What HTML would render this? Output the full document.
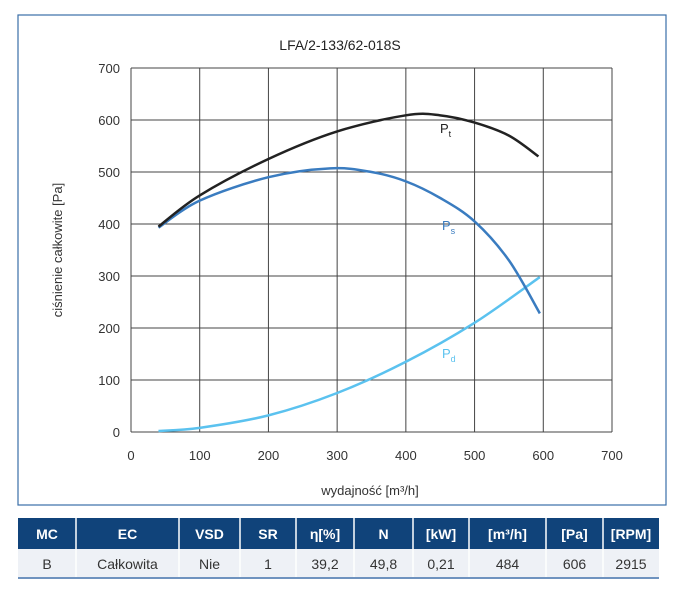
<!DOCTYPE html>
<html><head><meta charset="utf-8"><style>
body{margin:0;background:#fff;width:677px;height:600px;overflow:hidden;font-family:"Liberation Sans",sans-serif}
svg text{font-family:"Liberation Sans",sans-serif}
</style></head><body>
<svg width="677" height="600">
<rect x="18" y="15" width="648" height="490" fill="none" stroke="#3a6fa8" stroke-width="1.2"/>
<text x="340" y="50" text-anchor="middle" font-size="14" fill="#222">LFA/2-133/62-018S</text>
<g id="grid"></g><g id="curves"></g>
<text x="370" y="495" text-anchor="middle" font-size="13" fill="#333">wydajność [m³/h]</text>
<text transform="translate(62,250) rotate(-90)" text-anchor="middle" font-size="13" fill="#333">ciśnienie całkowite [Pa]</text>
<text x="440" y="133" font-size="13" fill="#222">P<tspan font-size="9" dy="4">t</tspan></text>
<text x="442" y="230" font-size="13" fill="#3a7cc0">P<tspan font-size="9" dy="4">s</tspan></text>
<text x="442" y="358" font-size="13" fill="#5bc2ef">P<tspan font-size="9" dy="4">d</tspan></text>
<g>
<rect x="18" y="518" width="641" height="31" fill="#10437a"/>
<rect x="18" y="549" width="641" height="29" fill="#eef1f6"/>
<rect x="18" y="577" width="641" height="2" fill="#6f93bf"/>
<g id="tbl"></g>
</g>
</svg>
<script>
const xTicks=[0,100,200,300,400,500,600,700];
const yTicks=[0,100,200,300,400,500,600,700];
const flowPt=[40,100,200,300,400,450,500,550,593];
const valPt=[395,455,525,578,609,609,595,570,530];
const flowPs=[40,100,200,290,350,400,450,500,550,595];
const valPs=[393,445,490,507,500,482,450,405,330,228];
const flowPd=[40,100,200,300,400,500,595];
const valPd=[2,8,32,75,135,210,298];
const headers=["MC","EC","VSD","SR","η[%]","N","[kW]","[m³/h]","[Pa]","[RPM]"];
const rowVals=["B","Całkowita","Nie","1","39,2","49,8","0,21","484","606","2915"];
const colEdges=[18,76,179,240,296,354,413,469,546,603,659];
const X0=131,X1=612,Y0=432,Y1=68;
const sx=v=>X0+(v/700)*(X1-X0), sy=v=>Y0-(v/700)*(Y0-Y1);
const NS="http://www.w3.org/2000/svg";
const g=document.getElementById('grid');
function mk(tag,attrs,parent){const e=document.createElementNS(NS,tag);for(const k in attrs)e.setAttribute(k,attrs[k]);parent.appendChild(e);return e;}
xTicks.forEach(t=>{
 const l=mk('line',{x1:sx(t),x2:sx(t),y1:Y1,y2:Y0,stroke:'#444','stroke-width':1},g);
 
 
 const tx=mk('text',{x:sx(t),y:Y0+28,'text-anchor':'middle','font-size':13,fill:'#333'},g);tx.textContent=t;
 
 
});
yTicks.forEach(t=>{
 const l=mk('line',{x1:X0,x2:X1,y1:sy(t),y2:sy(t),stroke:'#444','stroke-width':1},g);
 
 
 const tx=mk('text',{x:X0-11,y:sy(t)+5,'text-anchor':'end','font-size':13,fill:'#333'},g);tx.textContent=t;
 
 
});
function smooth(xs,ys){const p=xs.map((x,i)=>[sx(x),sy(ys[i])]);let d=`M${p[0][0]},${p[0][1]}`;
 for(let i=0;i<p.length-1;i++){const p0=p[i-1]||p[i],p1=p[i],p2=p[i+1],p3=p[i+2]||p2;
 d+=` C${p1[0]+(p2[0]-p0[0])/6},${p1[1]+(p2[1]-p0[1])/6} ${p2[0]-(p3[0]-p1[0])/6},${p2[1]-(p3[1]-p1[1])/6} ${p2[0]},${p2[1]}`;}return d;}
const c=document.getElementById('curves');
const a=mk('path',{d:smooth(flowPd,valPd),fill:'none',stroke:'#5bc2ef','stroke-width':2.5},c);


const b=mk('path',{d:smooth(flowPs,valPs),fill:'none',stroke:'#3a7cc0','stroke-width':2.5},c);


const d=mk('path',{d:smooth(flowPt,valPt),fill:'none',stroke:'#222','stroke-width':2.5},c);


const tb=document.getElementById('tbl');
for(let i=0;i<headers.length;i++){
 const cx=(colEdges[i]+colEdges[i+1])/2;
 const h=mk('text',{x:cx,y:539,'text-anchor':'middle','font-size':14,'font-weight':'bold',fill:'#fff'},tb);h.textContent=headers[i];
 
 
 const v=mk('text',{x:cx,y:569,'text-anchor':'middle','font-size':14,fill:'#333'},tb);v.textContent=rowVals[i];
 
 
 if(i>0){mk('line',{x1:colEdges[i],x2:colEdges[i],y1:518,y2:577,stroke:'#fff','stroke-width':1.5},tb);}
}
</script>
</body></html>
